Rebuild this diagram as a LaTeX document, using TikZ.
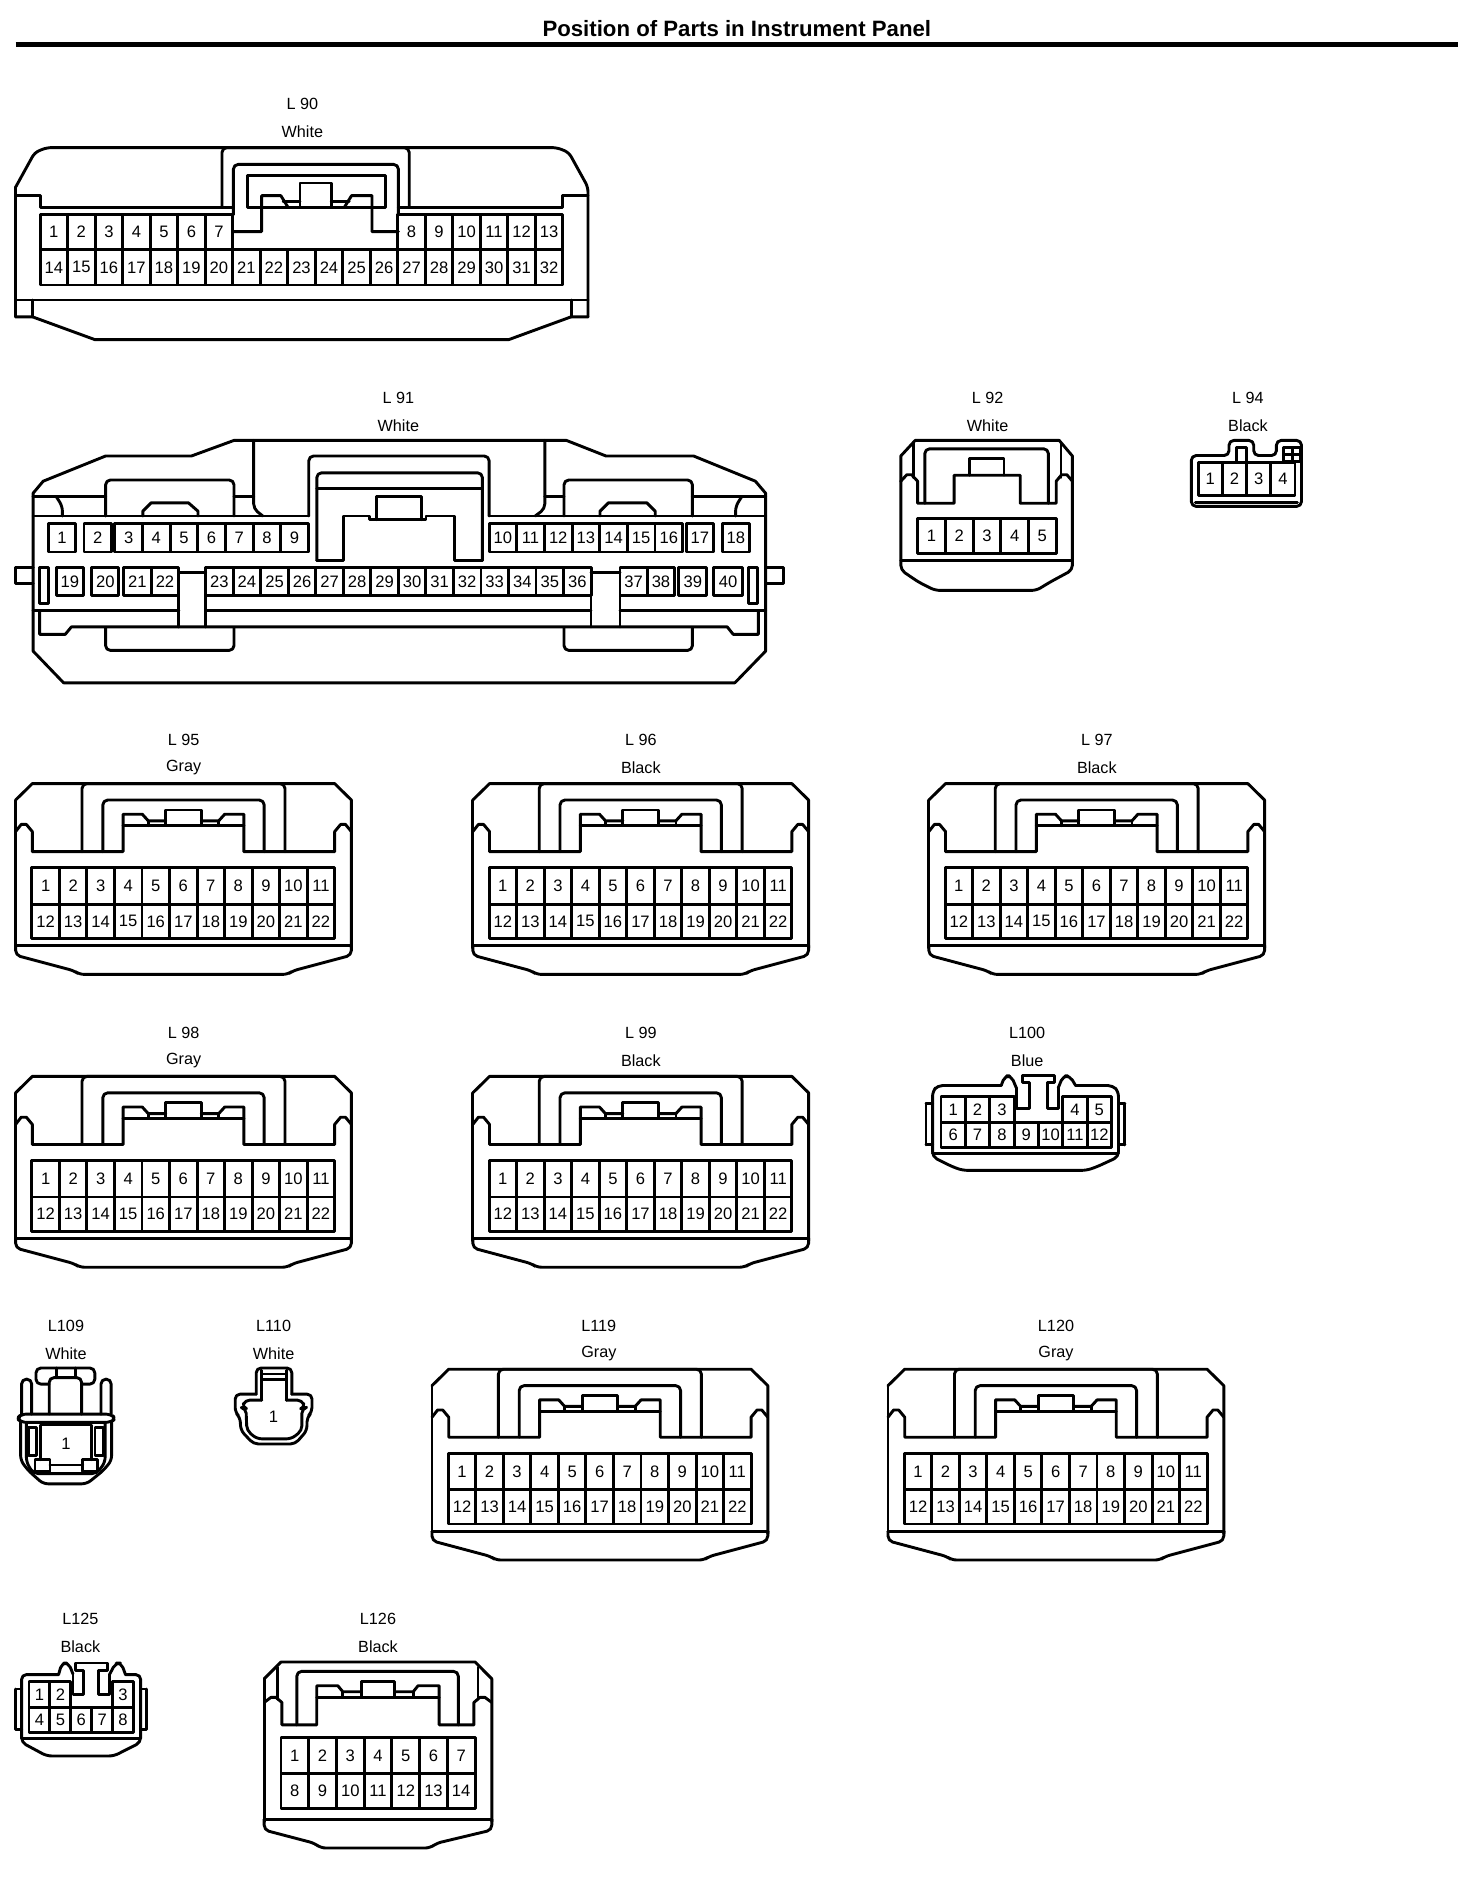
\documentclass[tikz,border=0pt]{standalone}
\usepackage{fontspec}
\setmainfont{Liberation Sans}
\tikzset{
  wire/.style={line width=1.45pt,line join=round,line cap=round},
  soft/.style={wire,rounded corners=2.4pt},
  pinlab/.style={inner sep=0pt,font=\fontsize{8.3}{10}\selectfont},
  headlab/.style={inner sep=0pt,font=\fontsize{8.1}{10}\selectfont},
}
% prefix, x0, dx, ytop, ybot, first number, column list
\newcommand\cellrow[7]{%
  \foreach \c [count=\n from #6] in {#7} {
    \draw[wire] ({#2+\c*#3},#4) rectangle ({#2+(\c+1)*#3},#5);
    \node[pinlab] (#1-\n) at ({#2+(\c+.5)*#3},{(#4+#5)/2}) {\n};
  }%
}
% name, x, y of label 1, label, colour
\newcommand\heading[5]{%
  \node[headlab] (#1-name) at (#2,#3) {#4};
  \node[headlab] (#1-col) at (#2,#3+23) {#5};
}
% 22-pin housing: prefix, x, y
\newcommand\twentytwo[3]{%
  \begin{scope}[shift={(#2,#3)},x=0.5975pt]
    \draw[wire] (0,13.7)--(14,0)--(267,0)--(281,13.7)--(281,137);
    \draw[soft] (281,135)--(281,143)--(232,156)--(227.6,159)--(53.4,159)--(49,156)--(0,143)--(0,135);
    \draw[wire] (0,13.7)--(0,137);
    \draw[wire] (0,135)--(281,135);
    \draw[wire] (0,40)--(4.7,34)--(9,34)--(14,40)--(14,56.7)--(90,56.7)--(90,25.5)--(106,25.5)--(111,31)--(125.6,31);
    \draw[wire] (155.4,31)--(170,31)--(175,25.5)--(191,25.5)--(191,56.7)--(267,56.7)--(267,40)--(272,34)--(276,34)--(281,40);
    \draw[wire] (90,35)--(191,35);
    \draw[wire] (111,31)--(111,35) (170,31)--(170,35);
    \draw[wire] (125.6,22) rectangle (155.4,35);
    \draw[soft] (73,56.7)--(73,13.7)--(208,13.7)--(208,56.7);
    \draw[soft] (55.6,56.7)--(55.6,0)--(225.4,0)--(225.4,56.7);
    \cellrow{#1}{13.6}{23.04}{70}{100.5}{1}{0,1,2,3,4,5,6,7,8,9,10}
    \cellrow{#1}{13.6}{23.04}{100.5}{129}{12}{0,1,2,3,4,5,6,7,8,9,10}
  \end{scope}%
}
\begin{document}
\begin{tikzpicture}[x=0.6pt,y=-0.6pt]
\useasboundingbox (0,0) rectangle (1226.67,1566.67);
\fill[white] (0,0) rectangle (1226.67,1566.67);
% title
\node[inner sep=0pt,font=\bfseries\fontsize{11.1}{13}\selectfont] (title) at (614,24) {Position of Parts in Instrument Panel};
\coordinate (ruleL) at (13,37);
\coordinate (ruleR) at (1215,37);
\draw[line width=2.1pt] (ruleL)--(ruleR);

% ---------- L90
\heading{L90}{252}{87}{L 90}{White}
\draw[soft] (13,156)--(29,127)--(39,123)--(464,123)--(474,127)--(490,156)--(490,264);
\draw[wire] (13,156)--(13,264);
\draw[wire] (13,264)--(27,264)--(79,283)--(424,283)--(476,264)--(490,264);
\draw[wire] (13,250)--(490,250);
\draw[wire] (27,250)--(27,264) (476,250)--(476,264);
\draw[wire] (13,163)--(34,163)--(34,172.7)--(194.5,172.7);
\draw[wire] (490,163)--(469,163)--(469,172.7)--(332,172.7);
\draw[soft] (185,172.7)--(185,123)--(341,123)--(341,172.7);
\draw[soft] (194.5,179)--(194.5,137)--(332,137)--(332,179);
\draw[wire] (206,172.7)--(206,146.5)--(321,146.5)--(321,172.7)--cycle;
\draw[wire] (194.5,193)--(218,193)--(218,163)--(234,163)--(240,172.7);
\draw[wire] (332,193)--(310,193)--(310,163)--(293,163)--(287,172.7);
\draw[wire] (236,167.7)--(250,167.7) (276,167.7)--(291,167.7);
\draw[wire] (250,172.7)--(250,152.5)--(276,152.5)--(276,172.7);
\cellrow{L90}{33.4}{22.93}{179}{208}{1}{0,1,2,3,4,5,6}
\cellrow{L90}{33.4}{22.93}{179}{208}{8}{13,14,15,16,17,18}
\cellrow{L90}{33.4}{22.93}{208}{237.5}{14}{0,1,2,3,4,5,6,7,8,9,10,11,12,13,14,15,16,17,18}

% ---------- L91
\heading{L91}{332}{332}{L 91}{White}
\draw[wire] (27.6,411)--(36,401)--(88,380)--(159.5,380)--(195,367)--(472,367)--(505,380)--(578,380)--(629.5,401)--(638,411)--(638,542.6)--(612.4,569)--(53,569)--(27.6,542.6)--cycle;
\draw[wire] (27.6,430)--(257.3,430) (407.6,430)--(638,430);
\draw[wire] (27.6,414)--(88,414) (195,414)--(211.4,414) (454,414)--(470,414) (577,414)--(638,414);
\draw[soft] (47,414)--(52,422)--(52,430);
\draw[soft] (618,414)--(613,422)--(613,430);
\draw[soft] (88,430)--(88,400)--(195,400)--(195,430);
\draw[soft] (470,430)--(470,400)--(577,400)--(577,430);
\draw[wire] (119,430)--(119,426)--(126,419)--(157,419)--(165,426)--(165,430);
\draw[wire] (500,430)--(500,426)--(507,419)--(539,419)--(546,426)--(546,430);
\draw[soft] (219,430)--(211.4,424)--(211.4,367);
\draw[soft] (446,430)--(454,424)--(454,367);
\draw[soft] (257.3,430)--(257.3,380)--(407.6,380)--(407.6,430);
\draw[soft] (264,467)--(264,394)--(402,394)--(402,467);
\draw[wire] (264,407)--(402,407);
\draw[wire] (264,467)--(286,467)--(286,430)--(308,430)--(308,433)--(355,433)--(355,430)--(378.5,430)--(378.5,467)--(402,467);
\draw[wire] (314,433)--(314,414)--(351,414)--(351,433);
\cellrow{L91}{40.5}{22.5}{436}{460}{1}{0}
\cellrow{L91}{70}{23}{436}{460}{2}{0}
\cellrow{L91}{95.7}{23.04}{436}{460}{3}{0,1,2,3,4,5,6}
\cellrow{L91}{407.6}{23.04}{436}{460}{10}{0,1,2,3,4,5,6}
\cellrow{L91}{572}{22.6}{436}{460}{17}{0}
\cellrow{L91}{602}{22.5}{436}{460}{18}{0}
\cellrow{L91}{47}{22.3}{473}{496}{19}{0}
\cellrow{L91}{76.6}{22.4}{473}{496}{20}{0}
\cellrow{L91}{103}{23}{473}{496}{21}{0,1}
\cellrow{L91}{171.4}{22.94}{473}{496}{23}{0,1,2,3,4,5,6,7,8,9,10,11,12,13}
\cellrow{L91}{516.7}{22.75}{473}{496}{37}{0,1}
\cellrow{L91}{565.7}{23.3}{473}{496}{39}{0}
\cellrow{L91}{594.6}{24.2}{473}{496}{40}{0}
\draw[wire] (33,473) rectangle (40.4,503);
\draw[wire] (624,473) rectangle (631.6,503);
\draw[wire] (27.6,473)--(12.8,473)--(12.8,486)--(27.6,486);
\draw[wire] (638,473)--(652.8,473)--(652.8,486)--(638,486);
\draw[wire] (27.6,509)--(149,509) (171.4,509)--(492.5,509) (516.7,509)--(638,509);
\draw[wire] (149,496)--(149,522.4) (171.4,496)--(171.4,522.4) (492.5,496)--(492.5,522.4) (516.7,496)--(516.7,522.4);
\draw[wire] (149,477.4)--(171.4,477.4) (492.5,477.4)--(516.7,477.4);
\draw[wire] (33,509)--(33,528.6)--(54.4,528.6)--(59.5,522.4)--(606,522.4)--(611,528.6)--(632,528.6)--(632,509);
\draw[soft] (88,523)--(88,542)--(195,542)--(195,523);
\draw[soft] (470,523)--(470,542)--(577,542)--(577,523);

% ---------- L92
\heading{L92}{823}{332}{L 92}{White}
\begin{scope}[xshift=-0.8pt]
\draw[wire] (752,401)--(752,380)--(764,367)--(884,367)--(895,380)--(895,401);
\draw[soft] (895,401)--(895,475)--(876.5,485)--(865,492)--(780.6,492)--(766.7,485)--(752,475)--(752,401);
\draw[wire] (752,467)--(895,467);
\draw[wire] (752,401)--(757,395.6)--(761,395.6)--(766,401)--(766,419.4)--(796.4,419.4)--(796.4,396)--(851.5,396)--(851.5,419.4)--(881.5,419.4)--(881.5,401)--(886,395.6)--(890.4,395.6)--(895,401);
\draw[wire] (762.5,369)--(762.5,398) (885.5,369)--(885.5,398);
\draw[soft] (772,419.4)--(772,374)--(875,374)--(875,419.4);
\draw[wire] (809,396)--(809,382)--(838,382)--(838,396);
\cellrow{L92}{766}{23.1}{432}{461.4}{1}{0,1,2,3,4}
\end{scope}

% ---------- L94
\heading{L94}{1040}{332}{L 94}{Black}
\begin{scope}[xshift=-1.1pt]
\draw[soft] (994.6,400)--(994.6,379.6)--(1026,379.6)--(1026,367)--(1046.6,367)--(1046.6,379.6)--(1065.5,379.6)--(1065.5,367)--(1086.4,367)--(1086.4,422)--(994.6,422)--cycle;
\draw[wire] (998,419)--(1083,419);
\cellrow{L94}{1000.2}{20.2}{385.2}{413.2}{1}{0,1,2,3}
\draw[wire] (1032,385.2)--(1032,373.2)--(1040.5,373.2)--(1040.5,385.2);
\draw[wire] (1071.6,384.4) rectangle (1085.5,373.2);
\draw[wire] (1078.9,373.2)--(1078.9,384.4) (1071.6,378.8)--(1085.5,378.8);
\end{scope}

% ---------- L95 ... L99, L119, L120
\heading{L95}{153}{617}{L 95}{Gray}
\twentytwo{L95}{13}{653}
\heading{L96}{534}{617}{L 96}{Black}
\twentytwo{L96}{394}{653}
\heading{L97}{914}{617}{L 97}{Black}
\twentytwo{L97}{774}{653}
\heading{L98}{153}{861}{L 98}{Gray}
\twentytwo{L98}{13}{897}
\heading{L99}{534}{861}{L 99}{Black}
\twentytwo{L99}{394}{897}
\heading{L119}{499}{1105}{L119}{Gray}
\twentytwo{L119}{360}{1141}
\heading{L120}{880}{1105}{L120}{Gray}
\twentytwo{L120}{740}{1141}

% ---------- L100
\heading{L100}{856}{861}{L100}{Blue}
\begin{scope}[xshift=-1pt]
\draw[soft] (836,904.6)--(783,904.6)--(778.8,909.5)--(778.8,964)--(795.6,972.4)--(804,975.3)--(907,975.3)--(915.5,972.4)--(933.7,964)--(933.7,909.5)--(929,904.6)--(898,904.6);
\draw[wire] (778.8,961)--(933.7,961);
\draw[soft] (836,904.6)--(839,896.6)--(844.4,896.6)--(848.6,906.6);
\draw[soft] (883.5,906.6)--(887.6,896.6)--(893.2,896.6)--(898,904.6);
\draw[wire] (848.6,906.6)--(848.6,923.8)--(859.7,923.8)--(859.7,902.3)--(853.6,902.3)--(853.6,896.6)--(880.7,896.6)--(880.7,902.3)--(874.2,902.3)--(874.2,923.8)--(883.5,923.8)--(883.5,906.6);
\draw[wire] (773.3,919.5)--(773.3,954);
\draw[wire] (773.3,919.5)--(778.8,919.5) (773.3,954)--(778.8,954);
\draw[wire] (939,919.5)--(939,954);
\draw[wire] (939,919.5)--(933.7,919.5) (939,954)--(933.7,954);
\cellrow{L100}{785.8}{20.3}{913.8}{935.2}{1}{0,1,2}
\cellrow{L100}{785.8}{20.3}{913.8}{935.2}{4}{5,6}
\cellrow{L100}{785.8}{20.3}{935.2}{956}{6}{0,1,2,3,4,5,6}
\end{scope}

% ---------- L109
\heading{L109}{55}{1105}{L109}{White}
\draw[soft] (41,1153.4)--(30,1153.4)--(30,1140)--(79,1140)--(79,1153.4)--(68,1153.4);
\draw[wire] (47,1140)--(47,1148) (63,1140)--(63,1148);
\draw[soft] (41,1178.4)--(41,1148)--(68,1148)--(68,1178.4);
\draw[soft] (18,1178.4)--(18,1149.3)--(26.4,1149.3)--(26.4,1178.4);
\draw[soft] (84.2,1178.4)--(84.2,1149.3)--(92.6,1149.3)--(92.6,1178.4);
\draw[soft] (18,1178.4)--(92,1178.4)--(96.7,1182)--(92,1185.3)--(18,1185.3)--(14,1182)--cycle;
\draw[soft] (17.2,1185.3)--(17.2,1217)--(23.6,1225.5)--(36,1236.5)--(72.3,1236.5)--(86,1225.5)--(93,1217)--(93,1185.3);
\draw[soft] (22,1185.3)--(22,1218.5)--(27.8,1228)--(80.6,1228)--(87.6,1218.5)--(87.6,1185.3);
\draw[wire] (23.6,1189.5) rectangle (30.6,1213);
\draw[wire] (79.2,1189.5) rectangle (86.2,1213);
\draw[wire] (34,1216.3)--(34,1187.5)--(76.5,1187.5)--(76.5,1216.3);
\draw[wire] (29.2,1216.3) rectangle (41.7,1226);
\draw[wire] (69,1216.3) rectangle (81.2,1226);
\draw[wire] (41.7,1220.8)--(69,1220.8);
\node[pinlab] (L109-1) at (55,1203) {1};

% ---------- L110
\heading{L110}{228}{1105}{L110}{White}
\draw[soft] (213.5,1161.8)--(213.5,1140)--(243.2,1140)--(243.2,1161.8);
\draw[wire] (218.2,1142)--(218.2,1166.7) (238.5,1142)--(238.5,1166.7);
\draw[wire] (218.2,1145)--(238.5,1145) (218.2,1149.3)--(238.5,1149.3);
\draw[soft] (213.5,1161.8)--(196,1161.8)--(196,1177)--(200,1181)--(200.7,1192)--(211.3,1203.3)--(246,1203.3)--(255.8,1192)--(255.8,1181)--(260,1177)--(260,1161.8)--(243.2,1161.8);
\draw[soft] (218.2,1166.7)--(204.3,1166.7)--(201.5,1173)--(205,1173.7)--(205.7,1192)--(214,1199)--(243,1199)--(251.6,1192)--(251.6,1173.7)--(254.4,1173)--(251.6,1166.7)--(238.5,1166.7);
\node[pinlab] (L110-1) at (228,1181) {1};

% ---------- L125
\heading{L125}{67}{1349}{L125}{Black}
\draw[soft] (48.8,1395.5)--(18,1395.5)--(18,1452)--(39,1463.3)--(94.9,1463.3)--(117.2,1452)--(117.2,1395.5)--(104.6,1395.5);
\draw[wire] (18,1449)--(117.2,1449);
\draw[soft] (48.8,1395.5)--(51.6,1385.8)--(57.2,1385.8)--(60.8,1395);
\draw[soft] (91.5,1395)--(96.3,1385.8)--(101,1385.8)--(104.6,1395.5);
\draw[wire] (60.8,1395)--(60.8,1412)--(69.8,1412)--(69.8,1392)--(62.8,1392)--(62.8,1385.8)--(89.3,1385.8)--(89.3,1392)--(82.3,1392)--(82.3,1412)--(91.5,1412)--(91.5,1395);
\draw[wire] (13,1407.5)--(13,1441) (13,1407.5)--(18,1407.5) (13,1441)--(18,1441);
\draw[wire] (122,1407.5)--(122,1441) (122,1407.5)--(117.2,1407.5) (122,1441)--(117.2,1441);
\cellrow{L125}{24.2}{17.42}{1401}{1423}{1}{0,1}
\cellrow{L125}{24.2}{17.42}{1401}{1423}{3}{4}
\cellrow{L125}{24.2}{17.42}{1423}{1443.5}{4}{0,1,2,3,4}

% ---------- L126
\heading{L126}{315}{1349}{L126}{Black}
\begin{scope}[xshift=-1pt]
\draw[wire] (221.8,1399)--(235.8,1385)--(397.6,1385)--(411.5,1399)--(411.5,1518);
\draw[wire] (221.8,1399)--(221.8,1518);
\draw[soft] (411.5,1516.4)--(411.5,1525)--(365.5,1536)--(360,1540)--(269,1540)--(263.7,1536)--(221.8,1525)--(221.8,1516.4);
\draw[wire] (221.8,1516.4)--(411.5,1516.4);
\draw[wire] (221.8,1418.7)--(227.4,1414.5)--(231.6,1414.5)--(236.6,1418.7)--(236.6,1437.4)--(265.6,1437.4)--(265.6,1404.8)--(283.2,1404.8)--(287.4,1409.8)--(302.7,1409.8);
\draw[wire] (330.6,1409.8)--(346,1409.8)--(350,1404.8)--(367.6,1404.8)--(367.6,1437.4)--(396.6,1437.4)--(396.6,1418.7)--(401.6,1414.5)--(405.8,1414.5)--(411.5,1418.7);
\draw[wire] (265.6,1414.5)--(367.6,1414.5);
\draw[wire] (287.4,1409.8)--(287.4,1414.5) (346,1409.8)--(346,1414.5);
\draw[wire] (302.7,1414.5)--(302.7,1401)--(330.6,1401)--(330.6,1414.5);
\draw[wire] (233,1389.4)--(233,1416) (400,1389.4)--(400,1416);
\draw[soft] (249,1437.4)--(249,1392.8)--(383.6,1392.8)--(383.6,1437.4);
\cellrow{L126}{235.8}{23.11}{1448}{1478}{1}{0,1,2,3,4,5,6}
\cellrow{L126}{235.8}{23.11}{1478}{1507}{8}{0,1,2,3,4,5,6}
\end{scope}
\end{tikzpicture}
\end{document}
